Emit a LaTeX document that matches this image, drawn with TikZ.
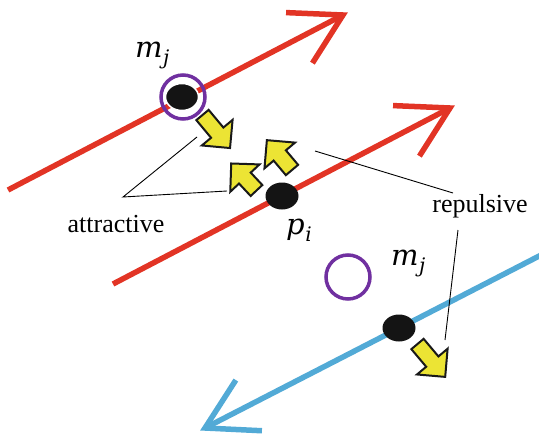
\documentclass[tikz,border=0pt]{standalone}
\usepackage{fontspec}
\setmainfont{Liberation Serif}
\newfontfamily\mfont{DejaVu Serif}
\usetikzlibrary{calc,shapes.geometric}
\definecolor{lred}{RGB}{226,52,37}
\definecolor{lblue}{RGB}{82,170,214}
\definecolor{lpurple}{RGB}{112,48,160}
\definecolor{ayellow}{RGB}{236,228,52}
\definecolor{dotblack}{RGB}{20,20,20}
\newcommand{\msym}[2]{{\mfont\itshape #1\kern0.5pt\raisebox{-7pt}{\fontsize{20}{22}\selectfont #2}}}
\tikzset{
  pics/blockarrow/.style={code={
    \draw[yarrow] (0,8) -- (#1-20,8) -- (#1-20,20) -- (#1,0) -- (#1-20,-20) -- (#1-20,-8) -- (0,-8) -- cycle;
  }}
}
\begin{document}
\begin{tikzpicture}[x=1pt,y=-1pt,
  redline/.style={draw=lred,line width=5.5pt},
  blueline/.style={draw=lblue,line width=5.5pt},
  redhead/.style={draw=lred,line width=5.5pt,line join=miter},
  bluehead/.style={draw=lblue,line width=5.5pt,line join=miter},
  ring/.style={circle,draw=lpurple,line width=3.5pt,inner sep=0pt,minimum size=44pt},
  dot/.style={ellipse,fill=dotblack,inner sep=0pt,minimum width=33pt,minimum height=27pt},
  yarrow/.style={fill=ayellow,draw=black!90,line width=2pt,line join=miter},
  leader/.style={draw=black,line width=0.9pt},
  lbl/.style={font=\fontsize{26}{30}\selectfont,inner sep=0pt},
  mlbl/.style={font=\fontsize{29}{32}\selectfont,inner sep=0pt}
]
\useasboundingbox (0,0) rectangle (539,436);

% motion lines
\coordinate (s1) at (8,190);
\coordinate (t1) at (343,15);
\coordinate (s2) at (113,284);
\coordinate (t2) at (450,108);
\coordinate (s3) at (545,253);
\coordinate (t3) at (205,428);

\draw[redline] (s1) -- (t1);
\draw[redhead] ($(t1)!57pt!30:(s1)$) -- (t1) -- ($(t1)!57pt!-30:(s1)$);
\draw[redline] (s2) -- (t2);
\draw[redhead] ($(t2)!57pt!30:(s2)$) -- (t2) -- ($(t2)!57pt!-30:(s2)$);
\draw[blueline] (s3) -- (t3);
\draw[bluehead] ($(t3)!57pt!30:(s3)$) -- (t3) -- ($(t3)!57pt!-30:(s3)$);

% particles and modes
\node[ring] (mj1) at (183,97) {};
\node[dot,draw=white,line width=1.5pt] (d1) at (182,97) {};
\node[dot] (pi) at (282,196) {};
\node[ring] (mj2) at (348,277) {};
\node[dot] (d3) at (399,328) {};

% labels
\node[mlbl,anchor=base west] (lmj1) at (135,58) {\msym{m}{j}};
\node[mlbl,anchor=base west] (lpi) at (286,234) {\msym{p}{i}};
\node[mlbl,anchor=base west] (lmj2) at (391,265) {\msym{m}{j}};
\node[lbl,anchor=base] (attr) at (116,232) {attractive};
\node[lbl,anchor=base] (rep) at (480,212) {repulsive};

% leader lines
\coordinate (av) at (123,197);
\coordinate (a1) at (197,137);
\coordinate (a2) at (227,191);
\draw[leader] (a1) -- (av) -- (a2);
\coordinate (r1) at (315,151);
\coordinate (r1e) at (453,193);
\coordinate (r2s) at (458,230);
\coordinate (r2) at (445,340);
\draw[leader] (r1) -- (r1e);
\draw[leader] (r2s) -- (r2);

% force arrows
\pic[rotate=-50.2] at (202.5,115) {blockarrow=43};
\pic[rotate=133.1] at (256.5,190.5) {blockarrow=37};
\pic[rotate=130.1] at (292,170) {blockarrow=39};
\pic[rotate=-49.9] at (417.5,344) {blockarrow=43};
\end{tikzpicture}
\end{document}
